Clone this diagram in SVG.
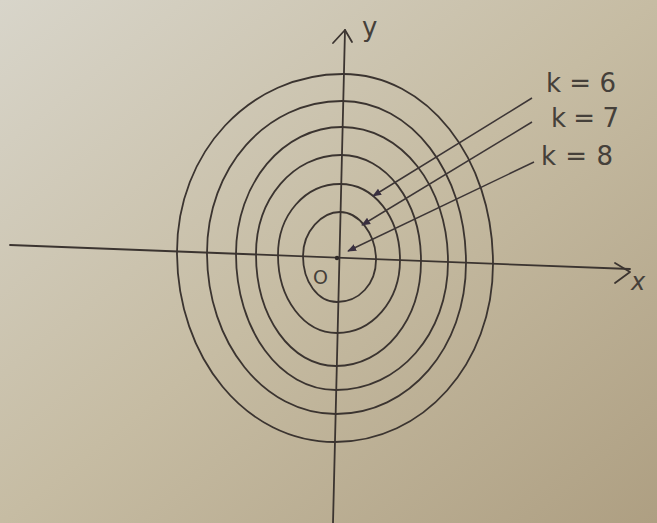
<svg xmlns="http://www.w3.org/2000/svg" width="657" height="523" viewBox="0 0 657 523">
  <defs>
    <linearGradient id="paper" x1="0" y1="0" x2="1" y2="1">
      <stop offset="0" stop-color="#d8d5ca"/>
      <stop offset="0.5" stop-color="#c6bca3"/>
      <stop offset="1" stop-color="#ae9f82"/>
    </linearGradient>
    <marker id="head" viewBox="0 0 10 10" refX="9" refY="5" markerWidth="6" markerHeight="6" orient="auto">
      <path d="M0,1 L10,5 L0,9 Z" fill="#3a3040"/>
    </marker>
    <style>
      .ink { fill: none; stroke: #3b3430; stroke-width: 1.8; stroke-linecap: round; stroke-linejoin: round; }
      .lbl { font-family: "DejaVu Sans", "Liberation Sans", sans-serif; fill: #45403a; }
      .conn { fill: none; stroke: #3d3636; stroke-width: 1.5; marker-end: url(#head); }
    </style>
  </defs>
  <rect x="0" y="0" width="657" height="523" fill="url(#paper)"/>

  <g id="axes">
    <path class="ink" d="M10,245 L630,269"/>
    <path class="ink" d="M615,263 L630,272 L615,283"/>
    <path class="ink" d="M345,30 L333,523"/>
    <path class="ink" d="M333,43 L345,30 L352,42"/>
    <circle cx="337" cy="258" r="2.2" fill="#2e2826"/>
  </g>

  <g id="contours">
    <path id="c1" class="ink" d="M343,74 C427,74 493,158 493,264 C493,364 423,442 335,442 C246,442 177,358 177,252 C177,152 250,74 343,74 Z"/>
    <path id="c2" class="ink" d="M342,101 C411,101 466,172 466,263 C466,348 409,414 336,414 C264,414 207,343 207,253 C207,168 266,101 342,101 Z"/>
    <path id="c3" class="ink" d="M342,127 C401,127 448,186 448,262 C448,334 399,390 336,390 C280,390 236,330 236,254 C236,183 283,127 342,127 Z"/>
    <path id="c4" class="ink" d="M341,155 C386,155 421,202 421,261 C421,320 384,366 336,366 C291,366 256,317 256,254 C256,199 293,155 341,155 Z"/>
    <path id="c5" class="ink" d="M340,184 C374,184 400,217 400,260 C400,301 372,333 337,333 C304,333 278,299 278,255 C278,215 305,184 340,184 Z"/>
    <path id="c6" class="ink" d="M340,212 C358,212 376,233 376,260 C376,284 359,302 337,302 C318,302 303,282 303,256 C303,231 322,212 340,212 Z"/>
  </g>

  <g id="connectors">
    <path class="conn" d="M532,98 L373,196"/>
    <path class="conn" d="M532,122 L362,225"/>
    <path class="conn" d="M534,162 L348,251"/>
  </g>

  <g id="labels">
    <text class="lbl" x="546" y="92" font-size="26" textLength="70" lengthAdjust="spacing">k=6</text>
    <text class="lbl" x="551" y="127" font-size="26" textLength="68" lengthAdjust="spacing">k=7</text>
    <text class="lbl" x="541" y="165" font-size="26" textLength="72" lengthAdjust="spacing">k=8</text>
    <text class="lbl" x="362" y="36" font-size="26">y</text>
    <text class="lbl" x="631" y="290" font-size="24" font-style="italic">x</text>
    <text class="lbl" x="313" y="284" font-size="19">O</text>
  </g>
</svg>
